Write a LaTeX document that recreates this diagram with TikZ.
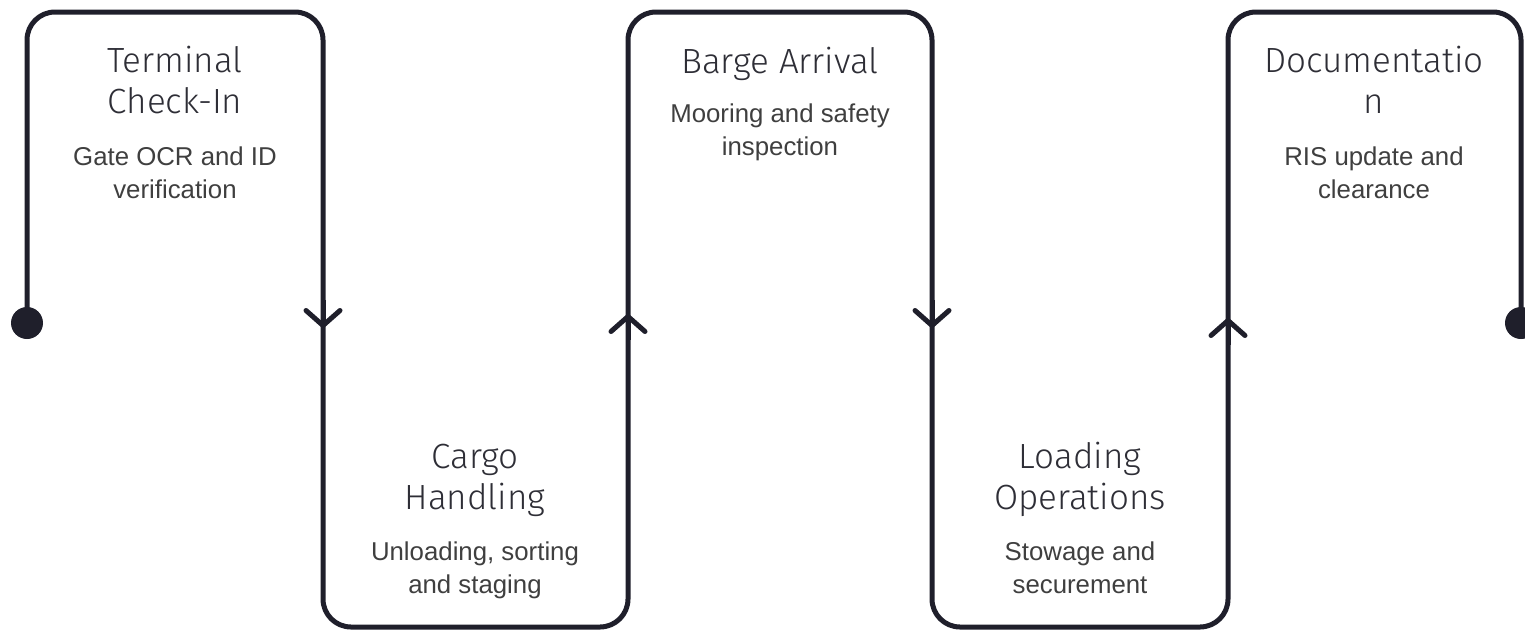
\documentclass[tikz,border=0pt]{standalone}
\usepackage{fontspec}
\setmainfont{Liberation Sans}
\newfontfamily\titlefont{Fira Sans Light}
\usetikzlibrary{arrows.meta}
\definecolor{ink}{HTML}{1F1F2B}
\definecolor{ttl}{HTML}{2E2E36}
\definecolor{bdy}{HTML}{3F3F3F}
\begin{document}
\begin{tikzpicture}[x=0.5pt,y=-0.5pt,
  flow/.style={draw=ink,line width=2.5pt,rounded corners=14pt,line cap=round,line join=round},
  barb/.style={draw=ink,line width=2.5pt,-{Straight Barb[length=7.5pt,width=17pt,round]}},
  ttlnode/.style={font=\titlefont\fontsize{17.5}{20.5}\selectfont,align=center,text=ttl,inner sep=0pt,anchor=base},
  bdynode/.style={font=\fontsize{12.9}{16.5}\selectfont,align=center,text=bdy,inner sep=0pt,anchor=base},
  dot/.style={circle,fill=ink,minimum size=16pt,inner sep=0pt}]
\useasboundingbox (0,0) rectangle (1525,632);
\clip (0,0) rectangle (1525,632);
% path corners
\coordinate (s) at (27,323);
\coordinate (p1) at (27,12);
\coordinate (p2) at (323,12);
\coordinate (p3) at (323,627);
\coordinate (p4) at (628,627);
\coordinate (p5) at (628,12);
\coordinate (p6) at (932,12);
\coordinate (p7) at (932,627);
\coordinate (p8) at (1228,627);
\coordinate (p9) at (1228,12);
\coordinate (p10) at (1521,12);
\coordinate (e) at (1521,323);
\draw[flow] (s) -- (p1) -- (p2) -- (p3) -- (p4) -- (p5) -- (p6) -- (p7) -- (p8) -- (p9) -- (p10) -- (e);
\node[dot] (ds) at (s) {};
\node[dot] (de) at (e) {};
% arrow heads
\coordinate (a1s) at (323,300); \coordinate (a1) at (323,328);
\coordinate (a2s) at (628,340); \coordinate (a2) at (628,314);
\coordinate (a3s) at (932,300); \coordinate (a3) at (932,328);
\coordinate (a4s) at (1228,345); \coordinate (a4) at (1228,318);
\draw[barb] (a1s) -- (a1);
\draw[barb] (a2s) -- (a2);
\draw[barb] (a3s) -- (a3);
\draw[barb] (a4s) -- (a4);
% texts (base anchor = baseline of the last line)
\node[ttlnode] (t1) at (175,113) {Terminal\\Check-In};
\node[bdynode] (b1) at (175,198) {Gate OCR and ID\\verification};
\node[ttlnode] (t2) at (475,509) {Cargo\\Handling};
\node[bdynode] (b2) at (475,593) {Unloading, sorting\\and staging};
\node[ttlnode] (t3) at (780,73) {Barge Arrival};
\node[bdynode] (b3) at (780,155) {Mooring and safety\\inspection};
\node[ttlnode] (t4) at (1080,509) {Loading\\Operations};
\node[bdynode] (b4) at (1080,593) {Stowage and\\securement};
\node[ttlnode] (t5) at (1374,113) {Documentatio\\n};
\node[bdynode] (b5) at (1374,198) {RIS update and\\clearance};
\end{tikzpicture}
\end{document}
